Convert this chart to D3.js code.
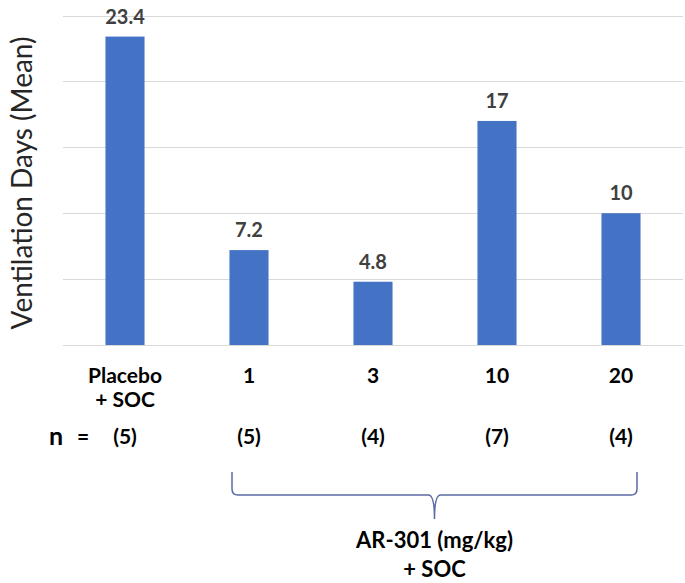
<!DOCTYPE html>
<html><head><meta charset="utf-8">
<script src="https://cdn.jsdelivr.net/npm/d3@7/dist/d3.min.js"></script>
<style>body{margin:0;background:#fff}svg{display:block}text{font-family:Lato,"Open Sans",sans-serif}</style>
</head><body><div id="c"></div>
<script>
const categories = [["Placebo","+ SOC"],["1"],["3"],["10"],["20"]];
const values = [23.4, 7.2, 4.8, 17, 10];
const valueLabels = ["23.4","7.2","4.8","17","10"];
const nCounts = ["(5)","(5)","(4)","(7)","(4)"];
const yTicks = [0,5,10,15,20,25];
const yTitle = "Ventilation Days (Mean)";
const groupLabel = ["AR-301 (mg/kg)","+ SOC"];

(function(){
const W=685,H=583;
const svg=d3.select("#c").append("svg").attr("width",W).attr("height",H);
const x=d3.scaleBand().domain(d3.range(categories.length)).range([63,683]).paddingInner(0.685).paddingOuter(0.3425);
const y=d3.scaleLinear().domain([0,25]).range([345,15.5]);

svg.append("g").selectAll("line").data(yTicks).join("line")
  .attr("x1",63).attr("x2",683).attr("y1",d=>Math.round(y(d))+0.5).attr("y2",d=>Math.round(y(d))+0.5)
  .attr("stroke","#d9d9d9").attr("stroke-width",1.2);

svg.append("g").selectAll("rect").data(values).join("rect")
  .attr("x",(d,i)=>x(i)).attr("width",x.bandwidth())
  .attr("y",d=>y(d)).attr("height",d=>y(0)-y(d)).attr("fill","#4472C4");

svg.append("g").selectAll("text").data(values).join("text")
  .attr("x",(d,i)=>x(i)+x.bandwidth()/2).attr("y",d=>y(d)-13)
  .attr("text-anchor","middle").attr("font-size",20).attr("font-weight","bold").attr("fill","#404040")
  .text((d,i)=>valueLabels[i]);

const cat=svg.append("g").selectAll("text").data(categories).join("text")
  .attr("x",(d,i)=>x(i)+x.bandwidth()/2).attr("y",383)
  .attr("text-anchor","middle").attr("font-size",21).attr("font-weight","bold").attr("fill","#000");
cat.selectAll("tspan").data(d=>d).join("tspan")
  .attr("x",function(){return this.parentNode.getAttribute("x");})
  .attr("dy",(d,i)=>i?24:0).text(d=>d);

svg.append("text").attr("x",49).attr("y",445).attr("font-size",25).attr("font-weight","bold").attr("fill","#000").text("n");
svg.append("text").attr("x",77).attr("y",444).attr("font-size",21).attr("font-weight","bold").attr("fill","#000").text("=");
svg.append("g").selectAll("text").data(nCounts).join("text")
  .attr("x",(d,i)=>x(i)+x.bandwidth()/2).attr("y",444)
  .attr("text-anchor","middle").attr("font-size",21).attr("font-weight","bold").attr("fill","#000").text(d=>d);

svg.append("text").attr("transform","translate(32,183) rotate(-90)").attr("text-anchor","middle")
  .attr("font-size",28).attr("fill","#262626").text(yTitle);

const bx0=x(1)+x.bandwidth()/2-17, bx1=x(4)+x.bandwidth()/2+16, bm=(bx0+bx1)/2;
const yTop=472, yMid=495, yBot=519;
svg.append("path").attr("fill","none").attr("stroke","#5b6aa5").attr("stroke-width",1.5)
  .attr("d",`M${bx0},${yTop} L${bx0},${yMid-6} Q${bx0},${yMid} ${bx0+6},${yMid} L${bm-6},${yMid} Q${bm},${yMid} ${bm},${yBot} Q${bm},${yMid} ${bm+6},${yMid} L${bx1-6},${yMid} Q${bx1},${yMid} ${bx1},${yMid-6} L${bx1},${yTop}`);

const gl=svg.append("text").attr("x",bm).attr("y",548).attr("text-anchor","middle").attr("font-size",22).attr("font-weight","bold").attr("fill","#000");
gl.selectAll("tspan").data(groupLabel).join("tspan").attr("x",bm).attr("dy",(d,i)=>i?29:0).text(d=>d);
})();
</script></body></html>
